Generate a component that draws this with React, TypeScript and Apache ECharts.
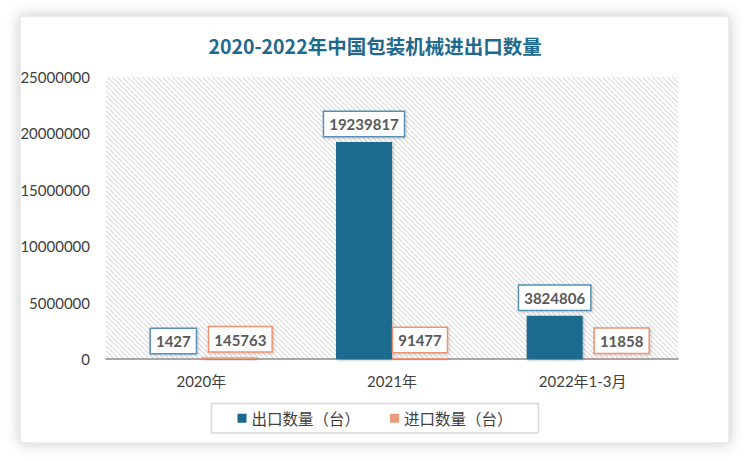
import React, { useEffect, useRef } from "react";
import * as echarts from "echarts";

const titleText = "2020-2022年中国包装机械进出口数量";
const categories = ["2020年", "2021年", "2022年1-3月"];
const exportValues = [1427, 19239817, 3824806];
const importValues = [145763, 91477, 11858];
const seriesNames = ["出口数量（台）", "进口数量（台）"];
const yMin = 0;
const yMax = 25000000;
const yInterval = 5000000;

const EXPORT_COLOR = "#1b6a8e";
const IMPORT_COLOR = "#ec9b7b";
const importLabelShift = [11, 0, 11];

function makeHatch(): HTMLCanvasElement {
  const c = document.createElement("canvas");
  c.width = 5;
  c.height = 5;
  const ctx = c.getContext("2d")!;
  ctx.fillStyle = "#ffffff";
  ctx.fillRect(0, 0, 5, 5);
  for (let i = 0; i < 5; i++) {
    ctx.fillStyle = "#dadada";
    ctx.fillRect(i, i, 1, 1);
    ctx.fillStyle = "#f0f0f0";
    ctx.fillRect((i + 1) % 5, i, 1, 1);
  }
  return c;
}

export default function App() {
  const ref = useRef<HTMLDivElement>(null);
  useEffect(() => {
    if (!ref.current) return;
    const chart = echarts.init(ref.current, undefined, { renderer: "svg" });
    const labelBase = {
      show: true,
      position: "top" as const,
      distance: 6,
      backgroundColor: "#ffffff",
      borderWidth: 1.5,
      padding: [5, 5, 4, 5],
      color: "#595959",
      fontFamily: "Lato, 'Noto Sans', sans-serif",
      fontWeight: "bold" as const,
      fontSize: 15,
      shadowBlur: 3,
      shadowColor: "rgba(0,0,0,0.2)",
      shadowOffsetX: 1,
      shadowOffsetY: 1,
    };
    chart.setOption({
      animation: false,
      backgroundColor: "#ffffff",
      graphic: [
        {
          type: "rect",
          z: -10,
          shape: { x: 20, y: 16, width: 709, height: 427 },
          style: {
            fill: "#ffffff",
            stroke: "#dcdcdc",
            lineWidth: 1,
            shadowBlur: 14,
            shadowColor: "rgba(0,0,0,0.22)",
          },
          silent: true,
        },
      ],
      title: {
        text: titleText,
        left: "center",
        top: 31,
        textStyle: {
          color: "#1f6a8c",
          fontSize: 19.5,
          fontWeight: "bold",
          fontFamily: "'Noto Sans CJK SC', sans-serif",
        },
      },
      legend: {
        bottom: 461 - 433,
        left: "center",
        itemWidth: 9,
        itemHeight: 9,
        itemGap: 30,
        padding: [7, 26, 7, 26],
        borderColor: "#d9d9d9",
        borderWidth: 1.5,
        icon: "rect",
        textStyle: {
          color: "#404040",
          fontSize: 15.5,
          fontFamily: "'Noto Sans CJK SC', sans-serif",
        },
        data: seriesNames,
      },
      grid: {
        left: 106,
        top: 77,
        width: 572,
        height: 282,
        show: true,
        borderWidth: 0,
        backgroundColor: { image: makeHatch(), repeat: "repeat" } as any,
      },
      xAxis: {
        type: "category",
        data: categories,
        axisLine: { lineStyle: { color: "#8c8c8c", width: 1.5 } },
        axisTick: { show: false },
        axisLabel: {
          color: "#404040",
          fontSize: 15,
          margin: 14,
          fontFamily: "Lato, 'Noto Sans CJK SC', sans-serif",
        },
      },
      yAxis: {
        type: "value",
        min: yMin,
        max: yMax,
        interval: yInterval,
        splitLine: { show: false },
        axisLine: { show: false },
        axisTick: { show: false },
        axisLabel: {
          color: "#404040",
          fontSize: 15,
          margin: 16,
          fontFamily: "Lato, sans-serif",
          formatter: (v: number) => String(v),
        },
      },
      series: [
        {
          name: seriesNames[0],
          type: "bar",
          barWidth: 56,
          barGap: "0%",
          data: exportValues,
          itemStyle: {
            color: EXPORT_COLOR,
            shadowBlur: 3,
            shadowColor: "rgba(0,0,0,0.3)",
            shadowOffsetX: 1,
            shadowOffsetY: 1,
          },
          label: { ...labelBase, borderColor: "#5690b4" },
        },
        {
          name: seriesNames[1],
          type: "bar",
          barWidth: 56,
          barGap: "0%",
          data: importValues.map((v, i) => ({
            value: v,
            label: { offset: [importLabelShift[i], 0] },
          })),
          itemStyle: {
            color: IMPORT_COLOR,
            shadowBlur: 3,
            shadowColor: "rgba(0,0,0,0.3)",
            shadowOffsetX: 1,
            shadowOffsetY: 1,
          },
          label: { ...labelBase, borderColor: "#ee9370" },
        },
      ],
    });
    return () => chart.dispose();
  }, []);
  return (
    <div
      ref={ref}
      style={{ position: "fixed", left: 0, top: 0, width: 750, height: 461 }}
    />
  );
}
